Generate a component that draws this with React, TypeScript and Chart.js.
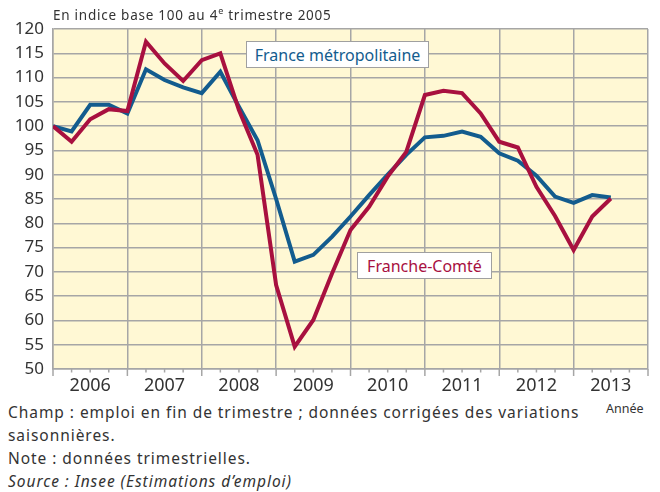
import React, { useEffect, useRef } from "react";
import { Chart, registerables } from "chart.js";

Chart.register(...registerables);

// Quarterly employment index, base 100 at Q4 2005 (index 0 = Q4 2005)
const years = ["2006", "2007", "2008", "2009", "2010", "2011", "2012", "2013"];
const franceMetro = [
  100, 98.9, 104.4, 104.4, 102.6, 111.7, 109.5, 108.0, 106.8, 111.2, 104.0,
  97.1, 85.0, 72.1, 73.5, 77.2, 81.4, 85.8, 90.0, 94.1, 97.7, 98.0, 98.9, 97.8,
  94.4, 92.9, 89.8, 85.5, 84.2, 85.8, 85.3,
];
const francheComte = [
  100, 96.8, 101.4, 103.5, 103.1, 117.4, 112.9, 109.3, 113.6, 115.0, 103.3,
  94.1, 67.3, 54.6, 60.1, 69.6, 78.6, 83.4, 89.6, 94.7, 106.4, 107.3, 106.8,
  102.6, 96.8, 95.6, 87.5, 81.5, 74.5, 81.4, 85.1,
];
const yMin = 50;
const yMax = 120;
const yStep = 5;

const BLUE = "#135C8E";
const RED = "#A8103F";
const GRID = "#A6A6A6";
const FONT = "'Noto Sans', sans-serif";

export default function App() {
  const ref = useRef<HTMLCanvasElement | null>(null);

  useEffect(() => {
    const canvas = ref.current;
    if (!canvas) return;
    const quarters = years.length * 4;

    const bgPlugin = {
      id: "bg",
      beforeDraw(chart: any) {
        const { ctx, chartArea } = chart;
        ctx.save();
        ctx.fillStyle = "#FFF8D4";
        ctx.fillRect(
          chartArea.left,
          chartArea.top,
          chartArea.right - chartArea.left,
          chartArea.bottom - chartArea.top
        );
        ctx.restore();
      },
      afterDraw(chart: any) {
        const { ctx, chartArea } = chart;
        const xs = chart.scales.x;
        ctx.save();
        ctx.strokeStyle = GRID;
        ctx.lineWidth = 1.5;
        for (let q = 0; q <= quarters; q++) {
          const px = xs.getPixelForValue(q);
          const len = q % 4 === 0 ? 7 : 3.5;
          ctx.beginPath();
          ctx.moveTo(px, chartArea.bottom);
          ctx.lineTo(px, chartArea.bottom + len);
          ctx.stroke();
        }
        ctx.restore();
      },
    };

    const chart = new Chart(canvas, {
      type: "line",
      data: {
        datasets: [
          {
            label: "Franche-Comté",
            data: francheComte.map((v, i) => ({ x: i, y: v })),
            borderColor: RED,
            borderWidth: 4,
            pointRadius: 0,
            tension: 0,
            borderJoinStyle: "miter",
          },
          {
            label: "France métropolitaine",
            data: franceMetro.map((v, i) => ({ x: i, y: v })),
            borderColor: BLUE,
            borderWidth: 4,
            pointRadius: 0,
            tension: 0,
            borderJoinStyle: "miter",
          },
        ],
      },
      options: {
        responsive: false,
        animation: false,
        devicePixelRatio: 1,
        layout: { padding: { left: 0, right: 12, top: 29, bottom: 0 } },
        plugins: {
          legend: { display: false },
          tooltip: { enabled: false },
        },
        scales: {
          x: {
            type: "linear",
            min: 0,
            max: quarters,
            afterFit(scale: any) {
              scale.height = 31;
            },
            border: { display: true, color: GRID, width: 1.5 },
            grid: {
              drawTicks: false,
              lineWidth: 1.5,
              color: (c: any) =>
                c.tick && c.tick.value % 4 === 0 ? GRID : "rgba(0,0,0,0)",
            },
            ticks: {
              stepSize: 1,
              autoSkip: false,
              maxRotation: 0,
              padding: 6,
              color: "#333",
              font: { family: FONT, size: 18 },
              callback: (v: any) => {
                const n = Number(v);
                return n % 4 === 2 ? years[(n - 2) / 4] : "";
              },
            },
          },
          y: {
            min: yMin,
            max: yMax,
            afterFit(scale: any) {
              scale.width = 53;
            },
            border: { display: true, color: GRID, width: 1.5 },
            grid: { drawTicks: false, color: GRID, lineWidth: 1.5 },
            ticks: {
              stepSize: yStep,
              padding: 9,
              color: "#333",
              font: { family: FONT, size: 17 },
            },
          },
        },
      },
      plugins: [bgPlugin],
    } as any);

    return () => chart.destroy();
  }, []);

  const boxStyle: React.CSSProperties = {
    position: "absolute",
    background: "#fff",
    border: "1.5px solid #A0A0A0",
    boxSizing: "border-box",
    fontSize: 16,
    display: "flex",
    alignItems: "center",
    justifyContent: "center",
    whiteSpace: "nowrap",
  };

  const noteStyle: React.CSSProperties = {
    position: "absolute",
    left: 8,
    fontSize: 15.5,
    letterSpacing: "0.95px",
    lineHeight: "23px",
    color: "#333",
    whiteSpace: "nowrap",
  };

  return (
    <div
      style={{
        position: "absolute",
        left: 0,
        top: 0,
        width: 660,
        height: 492,
        background: "#fff",
        fontFamily: FONT,
        overflow: "hidden",
      }}
    >
      <canvas
        ref={ref}
        width={660}
        height={400}
        style={{ position: "absolute", left: 0, top: 0 }}
      />
      <div
        style={{
          position: "absolute",
          left: 53,
          top: 4,
          fontSize: 13.5,
          letterSpacing: "0.75px",
          color: "#333",
          whiteSpace: "nowrap",
        }}
      >
        En indice base 100 au 4<sup style={{ fontSize: 9 }}>e</sup> trimestre
        2005
      </div>
      <div style={{ ...boxStyle, left: 246, top: 41, width: 183, height: 27, color: BLUE }}>
        France métropolitaine
      </div>
      <div style={{ ...boxStyle, left: 357, top: 252, width: 135, height: 27, color: RED }}>
        Franche-Comté
      </div>
      <div
        style={{
          position: "absolute",
          left: 606,
          top: 400,
          fontSize: 12.5,
          color: "#333",
        }}
      >
        Année
      </div>
      <div style={{ ...noteStyle, top: 401 }}>
        Champ : emploi en fin de trimestre ; données corrigées des variations
      </div>
      <div style={{ ...noteStyle, top: 424 }}>saisonnières.</div>
      <div style={{ ...noteStyle, top: 447 }}>Note : données trimestrielles.</div>
      <div style={{ ...noteStyle, top: 470, fontStyle: "italic" }}>
        Source : Insee (Estimations d’emploi)
      </div>
    </div>
  );
}
